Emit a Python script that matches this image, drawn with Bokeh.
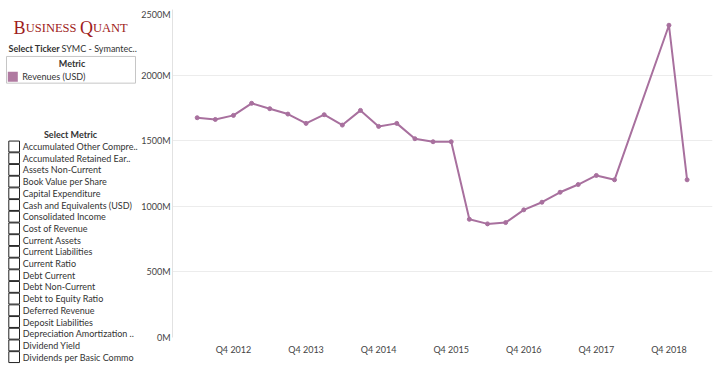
from bokeh.plotting import figure
from bokeh.layouts import row, column
from bokeh.models import Range1d, FixedTicker, ColumnDataSource
from bokeh.core.properties import value
from bokeh.embed import file_html
from bokeh.resources import INLINE

# ---------------- data ----------------
quarters = ["Q2 2012", "Q3 2012", "Q4 2012",
            "Q1 2013", "Q2 2013", "Q3 2013", "Q4 2013",
            "Q1 2014", "Q2 2014", "Q3 2014", "Q4 2014",
            "Q1 2015", "Q2 2015", "Q3 2015", "Q4 2015",
            "Q1 2016", "Q2 2016", "Q3 2016", "Q4 2016",
            "Q1 2017", "Q2 2017", "Q3 2017", "Q4 2017",
            "Q1 2018", "Q4 2018", "Q1 2019"]
revenues_musd = [1675, 1662, 1693,
                 1785, 1744, 1703, 1632,
                 1698, 1619, 1731, 1609,
                 1632, 1515, 1492, 1492,
                 901, 866, 876, 973,
                 1031, 1107, 1166, 1235,
                 1202, 2380, 1202]
x_tick_years = [2012, 2013, 2014, 2015, 2016, 2017, 2018]
x_tick_labels = ["Q4 2012", "Q4 2013", "Q4 2014", "Q4 2015", "Q4 2016", "Q4 2017", "Q4 2018"]
y_tick_values = [0, 500, 1000, 1500, 2000, 2500]
y_tick_labels = ["0M", "500M", "1000M", "1500M", "2000M", "2500M"]
metrics = ["Accumulated Other Compre..", "Accumulated Retained Ear..", "Assets Non-Current",
           "Book Value per Share", "Capital Expenditure", "Cash and Equivalents (USD)",
           "Consolidated Income", "Cost of Revenue", "Current Assets", "Current Liabilities",
           "Current Ratio", "Debt Current", "Debt Non-Current", "Debt to Equity Ratio",
           "Deferred Revenue", "Deposit Liabilities", "Depreciation Amortization ..",
           "Dividend Yield", "Dividends per Basic Commo"]
ticker_text = "SYMC - Symantec.."
legend_label = "Revenues (USD)"

LINE_COLOR = "#A8709E"
SWATCH_COLOR = "#B07AA1"
TEXT = "#333333"
FONT = value("Lato")
PW = 138  # panel width


def qpos(s):
    q, y = s.split()
    return int(y) + (int(q[1]) - 1) / 4.0


xs = [qpos(q) for q in quarters]

# ---------------- main chart ----------------
p = figure(width=720 - PW, height=366, frame_width=540, frame_height=328,
           x_range=Range1d(2011.91, 2019.35), y_range=Range1d(0, 2500),
           output_backend="svg", toolbar_location=None,
           min_border_left=172 - PW, min_border_right=8, min_border_top=9, min_border_bottom=29)
p.outline_line_color = None
p.background_fill_color = "white"
p.border_fill_color = "white"

src = ColumnDataSource(dict(x=xs, y=revenues_musd, q=quarters))
p.line("x", "y", source=src, line_color=LINE_COLOR, line_width=2)
p.scatter("x", "y", source=src, size=4, fill_color=LINE_COLOR, line_color=LINE_COLOR)

xt = [yr + 0.75 for yr in x_tick_years]
p.xaxis.ticker = FixedTicker(ticks=xt)
p.xaxis.major_label_overrides = {t: l for t, l in zip(xt, x_tick_labels)}
p.xaxis.axis_line_color = None
p.xaxis.major_tick_line_color = None
p.xaxis.minor_tick_line_color = None
p.xaxis.major_tick_out = 0
p.xaxis.major_label_standoff = 6
p.xaxis.major_label_text_font = "Lato"
p.xaxis.major_label_text_font_size = "9px"
p.xaxis.major_label_text_color = "#444444"

p.yaxis.ticker = FixedTicker(ticks=y_tick_values)
ov = {t: l for t, l in zip(y_tick_values, y_tick_labels)}
# top label sits just below its gridline, as in the reference
ov[y_tick_values[-1]] = "\n" + y_tick_labels[-1]
p.yaxis.major_label_overrides = ov
p.yaxis.axis_line_color = "#e2e2e2"
p.yaxis.major_tick_line_color = None
p.yaxis.minor_tick_line_color = None
p.yaxis.major_tick_out = 0
p.yaxis.major_label_standoff = 2
p.yaxis.major_label_text_font = "Lato"
p.yaxis.major_label_text_font_size = "9px"
p.yaxis.major_label_text_line_height = 0.77
p.yaxis.major_label_text_color = "#444444"

p.xgrid.grid_line_color = None
p.ygrid.ticker = FixedTicker(ticks=y_tick_values)
p.ygrid.grid_line_color = "#ececec"

# ---------------- left panel ----------------
panel = figure(width=PW, height=366, frame_width=PW, frame_height=366,
               x_range=Range1d(0, PW), y_range=Range1d(366, 0),
               output_backend="svg", toolbar_location=None, min_border=0,
               x_axis_type=None, y_axis_type=None)
panel.grid.visible = False
panel.outline_line_color = None

logo = ColumnDataSource(dict(x=[13, 25.3, 79.5, 92.5], y=[27, 27, 27, 27],
                             t=["B", "USINESS", "Q", "UANT"],
                             s=["18px", "12.5px", "18px", "12.5px"]))
panel.text("x", "y", text="t", source=logo, text_font_size="s", text_font=value("Liberation Serif"),
           text_color="#9E1B20", text_baseline="alphabetic")

panel.text(x=[8], y=[48], text=["Select Ticker"], text_font=FONT, text_font_size="9px",
           text_font_style="bold", text_color=TEXT, text_baseline="middle")
panel.text(x=[61], y=[48], text=[ticker_text], text_font=FONT, text_font_size="9px",
           text_color=TEXT, text_baseline="middle")

panel.rect(x=[70.5], y=[69.3], width=129, height=26.7, fill_color="white", line_color="#c6c6c6")
panel.text(x=[71.5], y=[63.3], text=["Metric"], text_font=FONT, text_font_size="9px",
           text_font_style="bold", text_color=TEXT, text_align="center", text_baseline="middle")
panel.rect(x=[12.3], y=[76.3], width=10, height=10, fill_color=SWATCH_COLOR, line_color=None)
panel.text(x=[21.7], y=[76.3], text=[legend_label], text_font=FONT, text_font_size="9px",
           text_color=TEXT, text_baseline="middle")

panel.text(x=[70], y=[134], text=["Select Metric"], text_font=FONT, text_font_size="9px",
           text_font_style="bold", text_color=TEXT, text_align="center", text_baseline="middle")
row_y = [146 + 11.7 * i for i in range(len(metrics))]
panel.rect(x=[13.65] * len(metrics), y=row_y, width=10.7, height=10.9,
           fill_color="white", line_color="#222222")
panel.text(x=[22.3] * len(metrics), y=row_y, text=metrics, text_font=FONT, text_font_size="9px",
           text_color=TEXT, text_baseline="middle")

layout = row(column(panel), p)
open("out.html", "w").write(file_html(layout, INLINE))
